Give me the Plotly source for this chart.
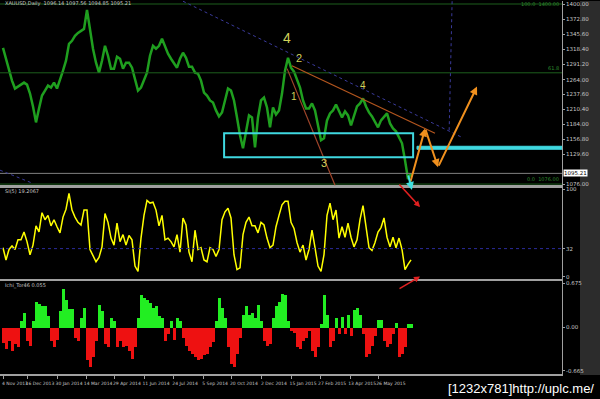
import plotly.graph_objects as go

# ---------------- data ----------------
# closing prices, one value per sampled bar (oldest -> newest)
price = [
    1321.2, 1301.5, 1283.6, 1262.2, 1247.9, 1251.4, 1255.0, 1258.6, 1255.0, 1238.9,
    1215.6, 1187.0, 1212.0, 1235.3, 1244.3, 1253.2, 1249.6, 1258.6, 1247.9, 1262.2,
    1280.1, 1298.0, 1328.4, 1333.8, 1342.7, 1348.1, 1351.7, 1355.2, 1389.3, 1351.7,
    1319.5, 1294.4, 1276.5, 1298.0, 1324.8, 1306.9, 1283.6, 1283.6, 1305.1, 1301.5,
    1283.6, 1294.4, 1294.4, 1285.4, 1262.2, 1244.3, 1249.6, 1262.2, 1276.5, 1306.9,
    1324.8, 1319.5, 1324.8, 1337.4, 1324.8, 1310.5, 1301.5, 1292.6, 1285.4, 1301.5,
    1312.3, 1303.3, 1287.2, 1287.2, 1276.5, 1274.7, 1262.2, 1240.7, 1235.3, 1226.4,
    1222.8, 1208.5, 1197.7, 1204.9, 1226.4, 1247.9, 1244.3, 1226.4, 1195.9, 1163.7,
    1140.5, 1172.7, 1199.5, 1195.9, 1142.2, 1195.9, 1226.4, 1231.7, 1213.8, 1178.0,
    1213.8, 1201.3, 1208.5, 1238.9, 1280.1, 1303.3, 1285.4, 1278.3, 1262.2, 1249.6,
    1226.4, 1212.0, 1212.0, 1221.0, 1208.5, 1178.0, 1154.8, 1158.4, 1190.6, 1203.1,
    1208.5, 1219.2, 1208.5, 1195.9, 1206.7, 1199.5, 1181.6, 1199.5, 1215.6, 1221.0,
    1230.0, 1215.6, 1204.9, 1197.7, 1187.0, 1178.0, 1190.6, 1197.7, 1203.1, 1185.2,
    1176.2, 1170.9, 1160.1, 1149.4, 1118.9, 1085.0, 1095.2,
]

# oscillator (0..100)
osc = [
    33, 19, 31, 35, 31, 42, 42, 51, 40, 25,
    36, 58, 51, 73, 65, 70, 58, 65, 57, 50,
    68, 77, 95, 76, 68, 62, 59, 76, 76, 31,
    24, 17, 22, 34, 72, 62, 44, 36, 61, 40,
    48, 36, 47, 42, 12, 6, 44, 70, 87, 84,
    85, 76, 58, 70, 42, 44, 40, 34, 48, 28,
    67, 59, 28, 17, 53, 31, 33, 19, 17, 33,
    31, 23, 31, 65, 74, 78, 67, 25, 8, 10,
    48, 62, 68, 58, 58, 50, 62, 59, 44, 33,
    36, 57, 70, 82, 86, 86, 62, 55, 39, 28,
    36, 19, 31, 53, 33, 12, 6, 25, 70, 84,
    65, 76, 44, 57, 45, 61, 45, 34, 42, 65,
    81, 59, 33, 30, 39, 51, 56, 67, 45, 34,
    45, 33, 44, 31, 8, 14, 19.2067,
]

# histogram indicator
hist = [
    -0.23, -0.33, -0.2, -0.36, -0.25, -0.3, 0.1, 0.22, -0.2, -0.28,
    0.1, 0.4, 0.37, 0.33, 0.33, 0.18, -0.2, -0.3, -0.18, 0.25,
    0.6, 0.43, 0.28, 0.28, -0.15, -0.2, 0.15, 0.3, -0.5, -0.6,
    -0.45, -0.2, 0.35, 0.25, -0.25, -0.3, 0.15, 0.1, -0.3, -0.2,
    -0.3, -0.28, -0.35, -0.48, -0.3, 0.15, 0.5, 0.45, 0.42, 0.38,
    0.3, 0.33, 0.18, 0.15, -0.2, -0.1, 0.1, -0.18, 0.15, 0.1,
    -0.15, -0.28, -0.35, -0.4, -0.45, -0.5, -0.47, -0.42, -0.4, -0.3,
    -0.22, 0.1, 0.45, 0.3, 0.15, -0.3, -0.55, -0.6, -0.4, -0.15,
    0.2, 0.33, 0.2, 0.22, 0.15, 0.35, 0.1, -0.2, -0.28, -0.25,
    0.15, 0.33, 0.4, 0.52, 0.5, 0.1, -0.05, -0.08, -0.3, -0.33,
    -0.2, -0.15, -0.05, -0.35, -0.45, -0.3, 0.05, 0.5, 0.2, -0.3,
    -0.2, 0.15, -0.1, 0.17, -0.1, 0.2, -0.12, 0.27, 0.3, 0.2,
    -0.1, -0.45, -0.4, -0.28, -0.12, 0.12, 0.12, -0.2, -0.3, -0.25,
    -0.1, 0.08, -0.45, -0.4, -0.3, 0.05, 0.055,
]

bars = list(range(len(price)))

x_tick_bars = [0, 8.3, 18, 27.7, 37.3, 47, 56.7, 66.7, 76.3, 86.3, 96, 105.7, 115.7, 125.3]
x_tick_labels = ["4 Nov 2013", "16 Dec 2013", "30 Jan 2014", "14 Mar 2014", "29 Apr 2014",
                 "11 Jun 2014", "24 Jul 2014", "5 Sep 2014", "20 Oct 2014", "2 Dec 2014",
                 "15 Jan 2015", "27 Feb 2015", "13 Apr 2015", "26 May 2015"]

price_ticks = [1400.00, 1372.80, 1345.60, 1318.40, 1291.20, 1264.00, 1237.60,
               1210.40, 1184.00, 1156.80, 1129.60, 1076.00]
osc_ticks = [100, 32, 0]
hist_ticks = [0.675, 0.0, -0.665]
hist_tick_labels = ["0.675", "0.00", "-0.665"]

last_price = 1095.21
osc_level = 32

fib_levels = [1400.0, 1276.2, 1076.0]
fib_labels = ["100.0  1400.00", "61.8", "0.0  1076.00"]

# drawn objects (bar index, price)
blue_trend = [(60, 1405.0), (153, 1160.0)]
blue_trend2 = [(-1, 1101.0), (9.7, 1077.8)]
blue_vertical = [(149.7, 1405.0), (148.7, 1169.0)]
orange_trend = [(96.3, 1289.0), (144.0, 1167.3)]
brown_trend = [(94.7, 1283.7), (110.7, 1073.3)]
zone_box = [(73.7, 1124.3), (136.7, 1167.3)]
zone_band = [(138.0, 1138.6), (186.3, 1144.0)]
proj_bars = [135.7, 140.7, 145.0, 158.0]
proj_price = [1077.8, 1176.2, 1106.4, 1251.4]

wave_text = ["4", "2", "1", "3", "4"]
wave_bars = [94.7, 98.5, 97.0, 107.0, 120.0]
wave_price = [1339.0, 1303.3, 1233.6, 1113.6, 1253.0]
wave_size = [14, 11, 10, 11, 10]

# ---------------- figure ----------------
W, H = 600, 399
XR = [-1, 186.33]


def fy(py):
    return 1 - py / H


GRAY = "#a0a0a0"
TXT = "#c8c8c8"
FONT = "DejaVu Sans"

fig = go.Figure()
fig.add_trace(go.Scatter(x=bars, y=price, mode="lines",
                         line=dict(color="#1f9f1f", width=2.5),
                         xaxis="x", yaxis="y", hoverinfo="skip"))
fig.add_trace(go.Scatter(x=bars, y=osc, mode="lines",
                         line=dict(color="#ffff00", width=1.5),
                         xaxis="x2", yaxis="y2", hoverinfo="skip"))
fig.add_trace(go.Bar(x=bars, y=hist,
                     marker=dict(color=["#22ee22" if v >= 0 else "#ee1111" for v in hist],
                                 line=dict(width=0)),
                     width=1.0, xaxis="x3", yaxis="y3", hoverinfo="skip"))

xdom = [0, 562 / W]
common_x = dict(domain=xdom, range=XR, showgrid=False, zeroline=False,
                showline=True, linecolor=GRAY, linewidth=1.5)
common_y = dict(side="right", showgrid=False, zeroline=False, showline=True,
                linecolor=GRAY, linewidth=1, ticks="outside", ticklen=2,
                tickcolor=GRAY, tickfont=dict(size=5.5, color=TXT, family=FONT))

fig.update_layout(
    width=W, height=H,
    margin=dict(l=0, r=0, t=0, b=0),
    paper_bgcolor="black", plot_bgcolor="black",
    showlegend=False, bargap=0,
    xaxis=dict(**common_x, anchor="y", showticklabels=False, ticks=""),
    xaxis2=dict(**common_x, anchor="y2", matches="x", mirror=True,
                showticklabels=False, ticks=""),
    xaxis3=dict(**common_x, anchor="y3", matches="x", mirror=True,
                tickvals=x_tick_bars, ticktext=x_tick_labels, tickangle=0,
                ticklabelshift=12, ticklabelstandoff=1,
                ticks="outside", ticklen=3, tickcolor=GRAY,
                tickfont=dict(size=4.5, color=TXT, family=FONT)),
    yaxis=dict(**common_y, domain=[fy(185.5), 1], range=[1073.3, 1405.4], anchor="x",
               tickvals=price_ticks, ticktext=[f"{v:.2f}" for v in price_ticks]),
    yaxis2=dict(**common_y, domain=[fy(279.5), fy(187)], range=[-2.84, 102.3], anchor="x2",
                tickvals=osc_ticks, ticktext=[str(v) for v in osc_ticks]),
    yaxis3=dict(**common_y, domain=[fy(375), fy(281)], range=[-0.715, 0.715], anchor="x3",
                tickvals=hist_ticks, ticktext=hist_tick_labels),
)

shapes = []
# right gray strip
shapes.append(dict(type="rect", xref="paper", yref="paper", x0=580 / W, x1=1,
                   y0=fy(376), y1=1, fillcolor="#2c2c2c", line=dict(width=0), layer="below"))
# fibo levels
for lv in fib_levels:
    shapes.append(dict(type="line", xref="x", yref="y", x0=XR[0], x1=XR[1], y0=lv, y1=lv,
                       line=dict(color="#1d5e1d", width=1)))
# current price line
shapes.append(dict(type="line", xref="x", yref="y", x0=XR[0], x1=XR[1],
                   y0=last_price, y1=last_price, line=dict(color="#808080", width=1)))
# oscillator level
shapes.append(dict(type="line", xref="x2", yref="y2", x0=XR[0], x1=XR[1],
                   y0=osc_level, y1=osc_level, line=dict(color="#2a2a9a", width=1, dash="dot")))


def seg(pts, color, width, dash="solid"):
    (a, b), (c, d) = pts
    return dict(type="line", xref="x", yref="y", x0=a, y0=b, x1=c, y1=d,
                line=dict(color=color, width=width, dash=dash))


shapes.append(seg(blue_trend, "#3a3a9a", 1, "dot"))
shapes.append(seg(blue_trend2, "#3a3a9a", 1, "dot"))
shapes.append(seg(blue_vertical, "#3a3a9a", 1, "dot"))
shapes.append(seg(orange_trend, "#b4561e", 1.2))
shapes.append(seg(brown_trend, "#a0452a", 1.2))
(bx0, by0), (bx1, by1) = zone_box
shapes.append(dict(type="rect", xref="x", yref="y", x0=bx0, x1=bx1, y0=by0, y1=by1,
                   line=dict(color="#3fd8e0", width=2)))
(cx0, cy0), (cx1, cy1) = zone_band
shapes.append(dict(type="rect", xref="x", yref="y", x0=cx0, x1=cx1, y0=cy0, y1=cy1,
                   fillcolor="#3fd8e0", line=dict(color="#3fd8e0", width=1)))
fig.update_layout(shapes=shapes)

ann = []
# header and indicator captions
ann.append(dict(xref="paper", yref="paper", x=3 / W, y=fy(3), xanchor="left", yanchor="middle",
                text="XAUUSD,Daily  1096.14 1097.56 1094.85 1095.21", showarrow=False,
                font=dict(size=5, color=TXT, family=FONT)))
ann.append(dict(xref="paper", yref="paper", x=3 / W, y=fy(191), xanchor="left", yanchor="middle",
                text="SI(5) 19.2067", showarrow=False, font=dict(size=5, color=TXT, family=FONT)))
ann.append(dict(xref="paper", yref="paper", x=3 / W, y=fy(286), xanchor="left", yanchor="middle",
                text="Ichi_Tor46 0.055", showarrow=False, font=dict(size=5, color=TXT, family=FONT)))
# fibo labels
for lv, lb in zip(fib_levels, fib_labels):
    ann.append(dict(xref="x", yref="y", x=XR[1] - 0.5, y=lv, xanchor="right",
                    yanchor="middle" if lv == max(fib_levels) else "bottom",
                    text=lb, showarrow=False, font=dict(size=5, color="#2e8b2e", family=FONT)))
# last price box
ann.append(dict(xref="paper", yref="y", x=563 / W, y=last_price, xanchor="left", yanchor="middle",
                text=f"{last_price:.2f}", showarrow=False, bgcolor="#ffffff", borderpad=0,
                font=dict(size=5.5, color="#000000", family=FONT)))
# wave labels
for t, bx, py, sz in zip(wave_text, wave_bars, wave_price, wave_size):
    ann.append(dict(xref="x", yref="y", x=bx, y=py, text=t, showarrow=False,
                    font=dict(size=sz, color="#d2d25a", family="Liberation Sans")))
# orange projection arrows
for i in range(len(proj_bars) - 1):
    ann.append(dict(xref="x", yref="y", axref="x", ayref="y",
                    x=proj_bars[i + 1], y=proj_price[i + 1], ax=proj_bars[i], ay=proj_price[i],
                    text="", showarrow=True, arrowhead=2, arrowsize=0.8, arrowwidth=2,
                    arrowcolor="#f0901e"))
# cyan arrow
ann.append(dict(xref="x2", yref="y2", x=136.3, y=98.9, ax=-4, ay=-16, text="",
                showarrow=True, arrowhead=2, arrowsize=0.8, arrowwidth=2, arrowcolor="#40e0e0"))
# red arrows
ann.append(dict(xref="x2", yref="y2", x=139, y=79.5, ax=-22, ay=-24, text="",
                showarrow=True, arrowhead=2, arrowsize=0.8, arrowwidth=1.5, arrowcolor="#e02020"))
ann.append(dict(xref="x2", yref="y2", x=139, y=0, ax=-22, ay=13, text="",
                showarrow=True, arrowhead=2, arrowsize=0.8, arrowwidth=1.5, arrowcolor="#e02020"))
# watermark
ann.append(dict(xref="paper", yref="paper", x=596 / W, y=fy(389), xanchor="right", yanchor="middle",
                text="[1232x781]http://uplc.me/", showarrow=False,
                font=dict(size=13, color="#ffffff", family="Liberation Sans")))
fig.update_layout(annotations=ann)

fig.write_html("out.html")
